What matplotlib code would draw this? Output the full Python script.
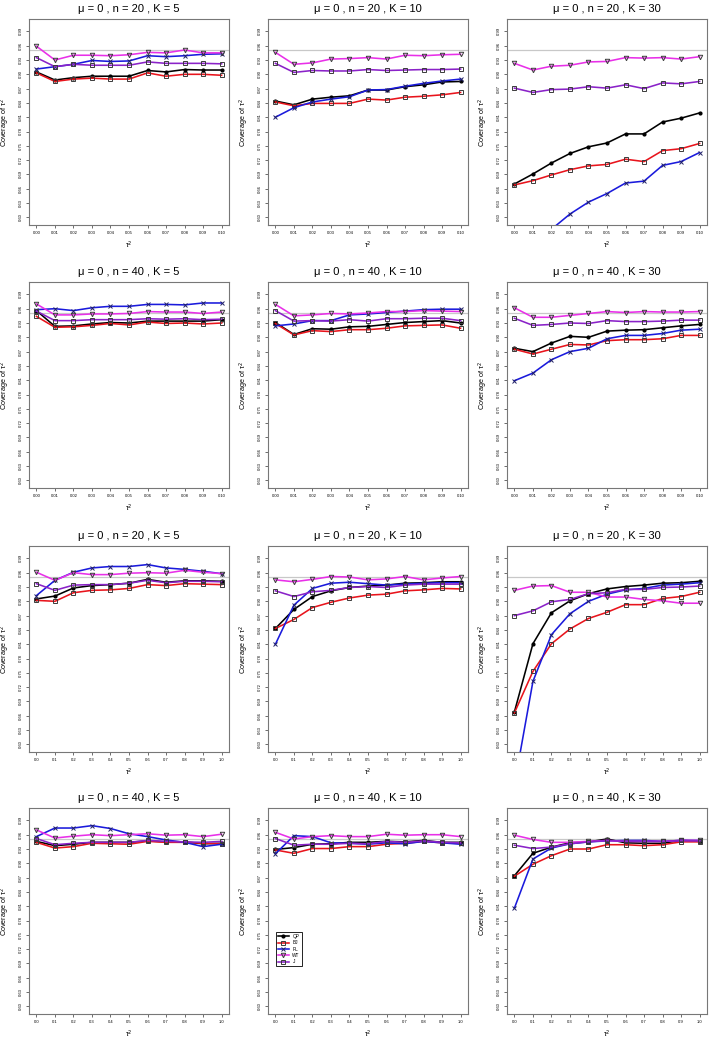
import numpy as np
import matplotlib
matplotlib.use("Agg")
import matplotlib.pyplot as plt

plt.rcParams['font.family'] = ['Liberation Sans', 'DejaVu Sans']

tau_small = [0.00, 0.01, 0.02, 0.03, 0.04, 0.05, 0.06, 0.07, 0.08, 0.09, 0.10]
tau_large = [0.0, 0.1, 0.2, 0.3, 0.4, 0.5, 0.6, 0.7, 0.8, 0.9, 1.0]
small_labels = ["0.00", "0.01", "0.02", "0.03", "0.04", "0.05", "0.06", "0.07", "0.08", "0.09", "0.10"]
large_labels = ["0.0", "0.1", "0.2", "0.3", "0.4", "0.5", "0.6", "0.7", "0.8", "0.9", "1.0"]
y_ticks = [0.60, 0.63, 0.66, 0.69, 0.72, 0.75, 0.78, 0.81, 0.84, 0.87, 0.90, 0.93, 0.96, 0.99]
nominal = 0.95

methods = ["QP", "BJ", "PL", "WT", "J"]
titles = ["μ = 0 , n = 20 , K = 5", "μ = 0 , n = 20 , K = 10", "μ = 0 , n = 20 , K = 30",
          "μ = 0 , n = 40 , K = 5", "μ = 0 , n = 40 , K = 10", "μ = 0 , n = 40 , K = 30",
          "μ = 0 , n = 20 , K = 5", "μ = 0 , n = 20 , K = 10", "μ = 0 , n = 20 , K = 30",
          "μ = 0 , n = 40 , K = 5", "μ = 0 , n = 40 , K = 10", "μ = 0 , n = 40 , K = 30"]

# coverage per panel, order QP, BJ, PL, WT, J
p1 = [[0.905, 0.888, 0.893, 0.896, 0.896, 0.896, 0.908, 0.905, 0.910, 0.909, 0.909],
      [0.903, 0.885, 0.890, 0.892, 0.890, 0.890, 0.903, 0.896, 0.900, 0.900, 0.898],
      [0.911, 0.916, 0.921, 0.929, 0.927, 0.928, 0.939, 0.937, 0.939, 0.942, 0.943],
      [0.959, 0.930, 0.940, 0.940, 0.939, 0.941, 0.946, 0.945, 0.951, 0.945, 0.945],
      [0.935, 0.916, 0.921, 0.919, 0.919, 0.919, 0.926, 0.923, 0.923, 0.923, 0.922]]
p2 = [[0.844, 0.836, 0.848, 0.852, 0.855, 0.867, 0.867, 0.874, 0.878, 0.884, 0.885],
      [0.842, 0.834, 0.839, 0.839, 0.839, 0.848, 0.846, 0.852, 0.854, 0.857, 0.862],
      [0.810, 0.830, 0.842, 0.848, 0.853, 0.867, 0.868, 0.875, 0.881, 0.886, 0.890],
      [0.946, 0.921, 0.924, 0.932, 0.933, 0.935, 0.932, 0.940, 0.939, 0.941, 0.942],
      [0.923, 0.904, 0.908, 0.907, 0.907, 0.910, 0.908, 0.909, 0.910, 0.910, 0.911]]
p3 = [[0.670, 0.691, 0.714, 0.734, 0.748, 0.756, 0.775, 0.775, 0.800, 0.808, 0.819],
      [0.668, 0.677, 0.689, 0.700, 0.708, 0.711, 0.722, 0.717, 0.740, 0.744, 0.755],
      [0.500, 0.540, 0.575, 0.607, 0.632, 0.650, 0.672, 0.676, 0.709, 0.717, 0.736],
      [0.923, 0.909, 0.917, 0.919, 0.926, 0.927, 0.935, 0.934, 0.935, 0.932, 0.937],
      [0.871, 0.862, 0.868, 0.869, 0.874, 0.871, 0.878, 0.870, 0.882, 0.880, 0.885]]
p4 = [[0.956, 0.923, 0.924, 0.928, 0.931, 0.930, 0.934, 0.934, 0.934, 0.934, 0.937],
      [0.944, 0.921, 0.922, 0.925, 0.929, 0.926, 0.932, 0.929, 0.930, 0.928, 0.930],
      [0.958, 0.960, 0.956, 0.962, 0.965, 0.965, 0.969, 0.969, 0.968, 0.972, 0.972],
      [0.970, 0.947, 0.947, 0.949, 0.949, 0.950, 0.954, 0.953, 0.953, 0.950, 0.953],
      [0.955, 0.935, 0.935, 0.937, 0.937, 0.937, 0.939, 0.938, 0.939, 0.937, 0.938]]
p5 = [[0.931, 0.906, 0.918, 0.917, 0.922, 0.923, 0.927, 0.931, 0.933, 0.935, 0.930],
      [0.929, 0.905, 0.914, 0.912, 0.916, 0.916, 0.919, 0.924, 0.925, 0.926, 0.919],
      [0.924, 0.928, 0.935, 0.935, 0.947, 0.949, 0.952, 0.955, 0.958, 0.959, 0.959],
      [0.969, 0.945, 0.947, 0.950, 0.949, 0.951, 0.954, 0.954, 0.956, 0.955, 0.954],
      [0.956, 0.934, 0.935, 0.934, 0.937, 0.934, 0.939, 0.939, 0.940, 0.940, 0.935]]
p6 = [[0.877, 0.870, 0.888, 0.902, 0.900, 0.913, 0.915, 0.916, 0.920, 0.924, 0.927],
      [0.875, 0.865, 0.875, 0.885, 0.884, 0.893, 0.895, 0.895, 0.897, 0.904, 0.904],
      [0.809, 0.825, 0.853, 0.870, 0.877, 0.897, 0.904, 0.904, 0.908, 0.915, 0.917],
      [0.962, 0.942, 0.942, 0.946, 0.950, 0.954, 0.952, 0.954, 0.953, 0.953, 0.954],
      [0.940, 0.925, 0.927, 0.930, 0.929, 0.935, 0.933, 0.933, 0.934, 0.936, 0.936]]
p7 = [[0.905, 0.911, 0.928, 0.933, 0.935, 0.938, 0.946, 0.940, 0.943, 0.943, 0.942],
      [0.902, 0.900, 0.918, 0.923, 0.924, 0.927, 0.935, 0.933, 0.937, 0.936, 0.935],
      [0.912, 0.944, 0.961, 0.970, 0.973, 0.973, 0.977, 0.970, 0.967, 0.963, 0.958],
      [0.961, 0.944, 0.960, 0.956, 0.956, 0.959, 0.960, 0.959, 0.965, 0.961, 0.958],
      [0.937, 0.923, 0.934, 0.935, 0.935, 0.938, 0.944, 0.939, 0.942, 0.942, 0.941]]
p8 = [[0.843, 0.883, 0.910, 0.922, 0.929, 0.932, 0.934, 0.938, 0.939, 0.941, 0.941],
      [0.843, 0.862, 0.887, 0.898, 0.907, 0.913, 0.915, 0.922, 0.924, 0.927, 0.926],
      [0.810, 0.892, 0.927, 0.938, 0.940, 0.937, 0.934, 0.936, 0.938, 0.939, 0.939],
      [0.945, 0.941, 0.946, 0.952, 0.951, 0.945, 0.947, 0.952, 0.945, 0.949, 0.952],
      [0.922, 0.910, 0.920, 0.923, 0.929, 0.931, 0.929, 0.934, 0.936, 0.936, 0.936]]
p9 = [[0.668, 0.811, 0.876, 0.901, 0.916, 0.926, 0.931, 0.934, 0.938, 0.939, 0.942],
      [0.666, 0.753, 0.811, 0.842, 0.864, 0.877, 0.893, 0.893, 0.906, 0.910, 0.919],
      [0.515, 0.732, 0.830, 0.874, 0.900, 0.915, 0.924, 0.927, 0.934, 0.936, 0.939],
      [0.923, 0.932, 0.933, 0.919, 0.919, 0.909, 0.909, 0.904, 0.901, 0.896, 0.896],
      [0.870, 0.880, 0.899, 0.904, 0.916, 0.918, 0.925, 0.925, 0.929, 0.930, 0.932]]
p10 = [[0.946, 0.937, 0.940, 0.944, 0.944, 0.944, 0.947, 0.945, 0.945, 0.941, 0.942],
       [0.944, 0.932, 0.935, 0.942, 0.941, 0.940, 0.946, 0.944, 0.944, 0.942, 0.941],
       [0.956, 0.974, 0.974, 0.979, 0.973, 0.962, 0.956, 0.949, 0.944, 0.935, 0.940],
       [0.970, 0.953, 0.957, 0.960, 0.958, 0.960, 0.962, 0.959, 0.960, 0.956, 0.961],
       [0.952, 0.939, 0.942, 0.944, 0.944, 0.944, 0.948, 0.946, 0.945, 0.944, 0.946]]
p11 = [[0.929, 0.933, 0.940, 0.941, 0.944, 0.944, 0.946, 0.945, 0.948, 0.944, 0.944],
       [0.928, 0.921, 0.931, 0.931, 0.935, 0.935, 0.940, 0.942, 0.946, 0.943, 0.942],
       [0.920, 0.958, 0.956, 0.943, 0.942, 0.940, 0.943, 0.941, 0.946, 0.943, 0.940],
       [0.965, 0.951, 0.956, 0.958, 0.956, 0.956, 0.961, 0.959, 0.960, 0.960, 0.956],
       [0.952, 0.938, 0.940, 0.940, 0.942, 0.941, 0.946, 0.944, 0.947, 0.944, 0.943]]
p12 = [[0.874, 0.921, 0.934, 0.943, 0.945, 0.951, 0.943, 0.942, 0.942, 0.948, 0.946],
       [0.873, 0.898, 0.916, 0.930, 0.930, 0.939, 0.939, 0.937, 0.939, 0.945, 0.945],
       [0.806, 0.909, 0.932, 0.941, 0.945, 0.947, 0.948, 0.948, 0.946, 0.948, 0.948],
       [0.959, 0.950, 0.944, 0.944, 0.946, 0.948, 0.946, 0.946, 0.946, 0.948, 0.948],
       [0.938, 0.931, 0.934, 0.941, 0.945, 0.948, 0.946, 0.946, 0.946, 0.948, 0.947]]
panels = [p1, p2, p3, p4, p5, p6, p7, p8, p9, p10, p11, p12]

line_colors = ["black", "#e8141c", "#1a1adc", "#e830e8", "#8a22c8"]
markers = ["o", "s", "x", "v", "s"]
msizes = [2.0, 3.0, 3.2, 3.2, 3.0]

W, H = 709, 1040
col_left = [29, 268, 507]
row_top = [19, 282, 546, 808]
bw, bh = 200, 206

fig = plt.figure(figsize=(W / 100, H / 100), dpi=100)

for i, data in enumerate(panels):
    r, c = divmod(i, 3)
    ax = fig.add_axes([col_left[c] / W, 1 - (row_top[r] + bh) / H, bw / W, bh / H])
    if r < 2:
        xs, xl = tau_small, small_labels
    else:
        xs, xl = tau_large, large_labels
    ax.axhline(nominal, color="#c8c8c8", lw=0.9, zorder=1)
    for k, m in enumerate(methods):
        col = line_colors[k]
        if m == "QP":
            ax.plot(xs, data[k], color=col, lw=1.15, marker="o", ms=msizes[k],
                    mfc="black", mec="black", label=m, zorder=3)
        elif m == "PL":
            ax.plot(xs, data[k], color=col, lw=1.15, marker="x", ms=msizes[k],
                    mew=0.7, mec="#222266", label=m, zorder=3)
        else:
            ax.plot(xs, data[k], color=col, lw=1.15, marker=markers[k], ms=msizes[k],
                    mfc="none", mec="#3a3a3a", mew=0.7, label=m, zorder=3)
    span = xs[-1] - xs[0]
    ax.set_xlim(xs[0] - 0.04 * span, xs[-1] + 0.04 * span)
    ax.set_ylim(0.6 - 0.016, 1.0 + 0.016)
    ax.set_xticks(xs)
    ax.set_xticklabels(xl, fontsize=3.0)
    ax.set_yticks(y_ticks)
    ax.set_yticklabels(["%.2f" % v for v in y_ticks], fontsize=3.0, rotation=90, va="center")
    ax.tick_params(length=2, width=0.5, pad=2.5, color="#333333")
    for s in ax.spines.values():
        s.set_color("#777777")
        s.set_linewidth(0.8)
    ax.set_title(titles[i], fontsize=8, pad=5)
    ax.set_xlabel("τ$^2$", fontsize=5, labelpad=3.5)
    ax.set_ylabel("Coverage of τ$^2$", fontsize=5.2, labelpad=5)
    if i == 10:
        leg = ax.legend(loc="lower left", bbox_to_anchor=(0.03, 0.22), fontsize=3.4,
                        fancybox=False, edgecolor="black", framealpha=1,
                        handlelength=2.2, borderpad=0.4, labelspacing=0.3)
        leg.get_frame().set_linewidth(0.6)

fig.savefig("out.png", dpi=100)
